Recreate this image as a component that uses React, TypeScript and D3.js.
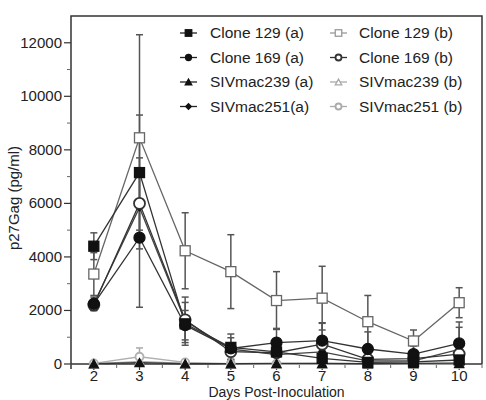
import React from 'react';
import * as d3 from 'd3';

const days = [2, 3, 4, 5, 6, 7, 8, 9, 10];
const yTicks = [0, 2000, 4000, 6000, 8000, 10000, 12000];

// means and SD
const clone129a = [4400, 7150, 1500, 620, 450, 210, 60, 80, 150];
const clone129aErr = [500, 2150, 800, 500, 400, 300, 100, 100, 200];
const clone129b = [3360, 8450, 4230, 3450, 2370, 2460, 1580, 860, 2290];
const clone129bErr = [800, 3850, 1420, 1380, 1080, 1190, 980, 410, 560];
const clone169a = [2250, 4720, 1450, 580, 800, 870, 560, 370, 770];
const clone169aErr = [250, 2600, 550, 400, 530, 650, 640, 300, 800];
const clone169b = [2200, 6000, 1650, 460, 420, 740, 170, 200, 370];
const clone169bErr = [200, 1700, 850, 300, 300, 800, 200, 150, 1000];
const siv239a = [10, 50, 10, 10, 20, 20, 10, 20, 30];
const siv239aErr = [0, 0, 0, 0, 0, 0, 0, 0, 0];
const siv251a = [2250, 5850, 1600, 560, 350, 450, 120, 120, 550];
const siv251aErr = [0, 0, 0, 0, 0, 0, 0, 0, 0];
const siv239b = [0, 100, 20, 0, 0, 0, 0, 0, 0];
const siv239bErr = [0, 0, 0, 0, 0, 0, 0, 0, 0];
const siv251b = [20, 270, 60, 10, 10, 20, 10, 20, 20];
const siv251bErr = [0, 330, 0, 0, 0, 0, 0, 0, 0];

type Shape = 'square' | 'circle' | 'triangle' | 'diamond';
interface Series {
  name: string;
  values: number[];
  err: number[];
  shape: Shape;
  filled: boolean;
  color: string;
  legendColor: string;
}

const series: Series[] = [
  { name: 'SIVmac239 (b)', values: siv239b, err: siv239bErr, shape: 'triangle', filled: false, color: '#b0b0b0', legendColor: '#aaa' },
  { name: 'SIVmac251 (b)', values: siv251b, err: siv251bErr, shape: 'circle', filled: false, color: '#b0b0b0', legendColor: '#aaa' },
  { name: 'SIVmac239 (a)', values: siv239a, err: siv239aErr, shape: 'triangle', filled: true, color: '#333', legendColor: '#222' },
  { name: 'SIVmac251(a)', values: siv251a, err: siv251aErr, shape: 'diamond', filled: true, color: '#444', legendColor: '#222' },
  { name: 'Clone 129 (b)', values: clone129b, err: clone129bErr, shape: 'square', filled: false, color: '#666', legendColor: '#999' },
  { name: 'Clone 169 (b)', values: clone169b, err: clone169bErr, shape: 'circle', filled: false, color: '#333', legendColor: '#333' },
  { name: 'Clone 169 (a)', values: clone169a, err: clone169aErr, shape: 'circle', filled: true, color: '#333', legendColor: '#222' },
  { name: 'Clone 129 (a)', values: clone129a, err: clone129aErr, shape: 'square', filled: true, color: '#333', legendColor: '#222' },
];

const legendCol1 = ['Clone 129 (a)', 'Clone 169 (a)', 'SIVmac239 (a)', 'SIVmac251(a)'];
const legendCol2 = ['Clone 129 (b)', 'Clone 169 (b)', 'SIVmac239 (b)', 'SIVmac251 (b)'];

const W = 486, H = 400;
const left = 71, right = 482, top = 16, bottom = 364;

const x = d3.scaleLinear().domain([1.5, 10.5]).range([left, right]);
const y = d3.scaleLinear().domain([0, 13000]).range([bottom, top]);

function Marker({ cx, cy, shape, filled, color, size }: { cx: number; cy: number; shape: Shape; filled: boolean; color: string; size: number }) {
  const fill = filled ? '#111' : '#fff';
  const stroke = filled ? '#111' : color;
  const sw = 1.3;
  if (shape === 'square') {
    return <rect x={cx - size / 2} y={cy - size / 2} width={size} height={size} fill={fill} stroke={stroke} strokeWidth={sw} />;
  }
  if (shape === 'circle') {
    return <circle cx={cx} cy={cy} r={size / 2} fill={fill} stroke={stroke} strokeWidth={filled ? sw : 1.8} />;
  }
  if (shape === 'triangle') {
    const h = size * 0.9;
    const p = `${cx},${cy - h / 2} ${cx + size / 2},${cy + h / 2} ${cx - size / 2},${cy + h / 2}`;
    return <polygon points={p} fill={fill} stroke={stroke} strokeWidth={sw} />;
  }
  const s = size / 2;
  const p = `${cx},${cy - s} ${cx + s},${cy} ${cx},${cy + s} ${cx - s},${cy}`;
  return <polygon points={p} fill={fill} stroke={stroke} strokeWidth={sw} />;
}

function plotSize(s: Series) {
  if (s.shape === 'square') return 10;
  if (s.shape === 'circle') return s.color === '#b0b0b0' ? 8 : 11;
  if (s.shape === 'triangle') return 9;
  return 7;
}

const App = () => {
  const line = d3.line<number>().x((_, i) => x(days[i])).y((d) => y(d));
  const minorY = d3.range(1000, 13000, 2000);
  const minorX = d3.range(1.5, 10.6, 1);
  const font = 'Liberation Sans, Arial, sans-serif';

  return (
    <svg width={W} height={H} style={{ position: 'absolute', left: 0, top: 0, background: '#fff' }} fontFamily={font}>
      {/* frame */}
      <path d={`M${left},${bottom + 5}V${top}H${right}V${bottom}`} fill="none" stroke="#333" strokeWidth={1.5} />
      <line x1={left} x2={right} y1={bottom} y2={bottom} stroke="#333" strokeWidth={1.5} />

      {yTicks.map((t) => (
        <g key={t}>
          <line x1={left - 7} x2={left} y1={y(t)} y2={y(t)} stroke="#333" strokeWidth={1.2} />
          <text x={left - 9} y={y(t) + 5} textAnchor="end" fontSize={15} fill="#222">{t}</text>
        </g>
      ))}
      {minorY.map((t) => (
        <line key={t} x1={left - 4} x2={left} y1={y(t)} y2={y(t)} stroke="#666" strokeWidth={1} />
      ))}
      {days.map((d) => (
        <g key={d}>
          <line x1={x(d)} x2={x(d)} y1={bottom} y2={bottom + 6} stroke="#333" strokeWidth={1.2} />
          <text x={x(d)} y={381} textAnchor="middle" fontSize={15} fill="#222">{d}</text>
        </g>
      ))}
      {minorX.map((d) => (
        <line key={d} x1={x(d)} x2={x(d)} y1={bottom} y2={bottom + 4} stroke="#666" strokeWidth={1} />
      ))}

      <text x={x(6)} y={396.5} textAnchor="middle" fontSize={14} fill="#222">Days Post-Inoculation</text>
      <text transform={`translate(19,${(top + bottom) / 2 + 8}) rotate(-90)`} textAnchor="middle" fontSize={15} fill="#222">p27Gag (pg/ml)</text>

      {/* lines */}
      {series.map((s) => (
        <path key={s.name} d={line(s.values) || ''} fill="none" stroke={s.color} strokeWidth={1.3} />
      ))}
      {/* error bars */}
      {series.map((s) => (
        <g key={s.name} stroke={s.color === '#b0b0b0' ? '#aaa' : '#555'} strokeWidth={1.5}>
          {s.values.map((v, i) =>
            s.err[i] > 0 ? (
              <g key={i}>
                <line x1={x(days[i])} x2={x(days[i])} y1={y(v + s.err[i])} y2={y(Math.max(0, v - s.err[i]))} />
                <line x1={x(days[i]) - 3.5} x2={x(days[i]) + 3.5} y1={y(v + s.err[i])} y2={y(v + s.err[i])} />
                <line x1={x(days[i]) - 3.5} x2={x(days[i]) + 3.5} y1={y(Math.max(0, v - s.err[i]))} y2={y(Math.max(0, v - s.err[i]))} />
              </g>
            ) : null
          )}
        </g>
      ))}
      {/* markers */}
      {series.map((s) => (
        <g key={s.name}>
          {s.values.map((v, i) => (
            <Marker key={i} cx={x(days[i])} cy={y(v)} shape={s.shape} filled={s.filled} color={s.color} size={plotSize(s)} />
          ))}
        </g>
      ))}

      {/* legend */}
      {[legendCol1, legendCol2].map((col, ci) =>
        col.map((name, ri) => {
          const s = series.find((q) => q.name === name)!;
          const ly = 33 + ri * 24.5;
          const lx0 = ci === 0 ? 180 : 330;
          const tx = ci === 0 ? 210 : 359;
          const sz = s.shape === 'square' ? 6.5 : s.shape === 'circle' ? 6 : s.shape === 'triangle' ? 6.5 : 5.5;
          return (
            <g key={name}>
              <line x1={lx0} x2={lx0 + 17} y1={ly} y2={ly} stroke={s.legendColor} strokeWidth={1.3} />
              <Marker cx={lx0 + 8.5} cy={ly} shape={s.shape} filled={s.filled} color={s.legendColor} size={sz} />
              <text x={tx} y={ly + 5} fontSize={15.5} fill="#222">{name}</text>
            </g>
          );
        })
      )}
    </svg>
  );
};

export default App;
